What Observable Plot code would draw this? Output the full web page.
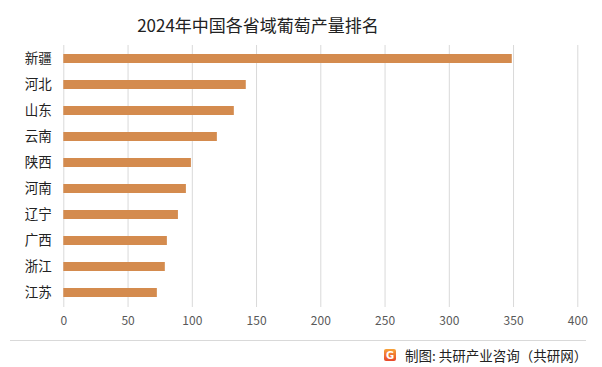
<!DOCTYPE html>
<html>
<head>
<meta charset="utf-8">
<script src="https://cdn.jsdelivr.net/npm/d3@7"></script>
<script src="https://cdn.jsdelivr.net/npm/@observablehq/plot@0.6"></script>
<style>
  html, body { margin: 0; padding: 0; background: #fff; }
  #wrap { position: relative; width: 602px; height: 367px; overflow: hidden; font-family: "Noto Sans CJK SC", "Noto Sans", sans-serif; }
  #title { position: absolute; left: 0; top: 12px; width: 516px; text-align: center; font-size: 17px; color: #222; line-height: 26px; }
  #sep { position: absolute; left: 10px; top: 340px; width: 576px; height: 0; border-top: 1px solid #d9d9d9; }
  #footer { position: absolute; left: 384px; top: 346px; font-size: 13.5px; color: #222; line-height: 18px; display: flex; align-items: center; }
  #logo { width: 12px; height: 12px; border-radius: 2px; background: linear-gradient(#f7a33a, #e8472a); color: #fff; font: bold 10px "DejaVu Sans", sans-serif; display: inline-flex; align-items: center; justify-content: center; margin-right: 9px; }
  #plot { position: absolute; left: 0; top: 0; }
</style>
</head>
<body>
<div id="wrap">
  <div id="plot"></div>
  <div id="title">2024年中国各省域葡萄产量排名</div>
  <div id="sep"></div>
  <div id="footer"><span id="logo">G</span><span>制图: 共研产业咨询（共研网）</span></div>
</div>
<script>
const provinces = ["新疆", "河北", "山东", "云南", "陕西", "河南", "辽宁", "广西", "浙江", "江苏"];
const output = [349, 142, 132.7, 119.5, 99.3, 95.4, 89.2, 80.6, 79, 72.8];
const xTicks = [0, 50, 100, 150, 200, 250, 300, 350, 400];

const data = provinces.map((p, i) => ({province: p, value: output[i]}));

const chart = Plot.plot({
  width: 602,
  height: 367,
  marginLeft: 63.3,
  marginRight: 24.7,
  marginTop: 45,
  marginBottom: 60,
  style: {fontFamily: '"Noto Sans CJK SC", "Noto Sans", sans-serif', background: "transparent"},
  x: {domain: [0, 400], ticks: xTicks},
  y: {domain: provinces, paddingInner: 0.65, paddingOuter: 0.325},
  marks: [
    Plot.gridX(xTicks, {stroke: "#d9d9d9", strokeOpacity: 1, strokeWidth: 1}),
    Plot.barX(data, {x: "value", y: "province", fill: "#d48b4e"}),
    Plot.axisX({ticks: xTicks, tickSize: 0, tickPadding: 9, fontSize: 12, fill: "#595959", label: null}),
    Plot.axisY({tickSize: 0, tickPadding: 12, fontSize: 13.5, fill: "#222", label: null})
  ]
});
document.getElementById("plot").appendChild(chart);
</script>
</body>
</html>
